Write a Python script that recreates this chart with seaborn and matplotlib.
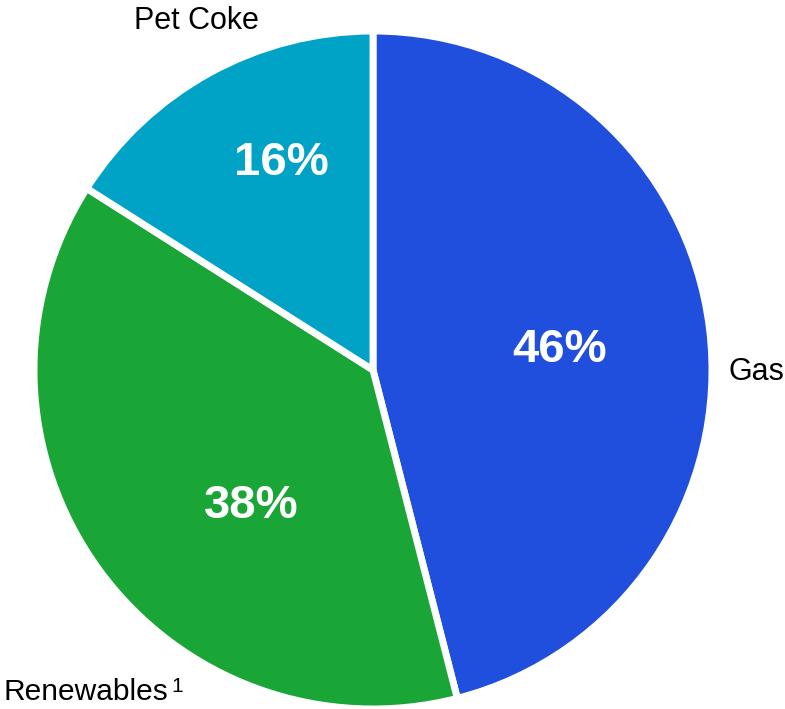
import numpy as np
import pandas as pd
import matplotlib.pyplot as plt
import seaborn as sns

# data
sources = ["Gas", "Renewables", "Pet Coke"]
shares = [46, 38, 16]
colors = ["#214FDD", "#1AA637", "#00A3C6"]

sns.set_theme(style="white")
plt.rcParams['font.family'] = ['Liberation Sans', 'DejaVu Sans']

fig = plt.figure(figsize=(7.85, 7.09), dpi=100)
ax = fig.add_axes([34 / 785, 0, 678 / 785, 678 / 709])

wedges, texts = ax.pie(
    shares, colors=colors, startangle=90, counterclock=False,
    wedgeprops=dict(edgecolor="white", linewidth=5),
    radius=1.0,
)

# percentage labels inside wedges
pct_pos = {"Gas": (0.55, 0.06), "Renewables": (-0.36, -0.40), "Pet Coke": (-0.27, 0.61)}
for name, val in zip(sources, shares):
    x, y = pct_pos[name]
    ax.text(x, y, f"{val}%", ha="center", va="center", color="white",
            fontsize=34, fontweight="bold")

# category labels outside
ax.text(1.05, -0.005, "Gas", ha="left", va="center", fontsize=22, color="black")
ax.text(-0.52, 1.03, "Pet Coke", ha="center", va="center", fontsize=22, color="black")
ax.text(-1.09, -0.95, "Renewables", ha="left", va="center", fontsize=21.5, color="black")
ax.text(-0.595, -0.935, "1", ha="left", va="center", fontsize=15, color="black")

ax.set_xlim(-1, 1)
ax.set_ylim(-1, 1)
ax.set_aspect("equal")
ax.axis("off")

fig.savefig("out.png", dpi=100)
